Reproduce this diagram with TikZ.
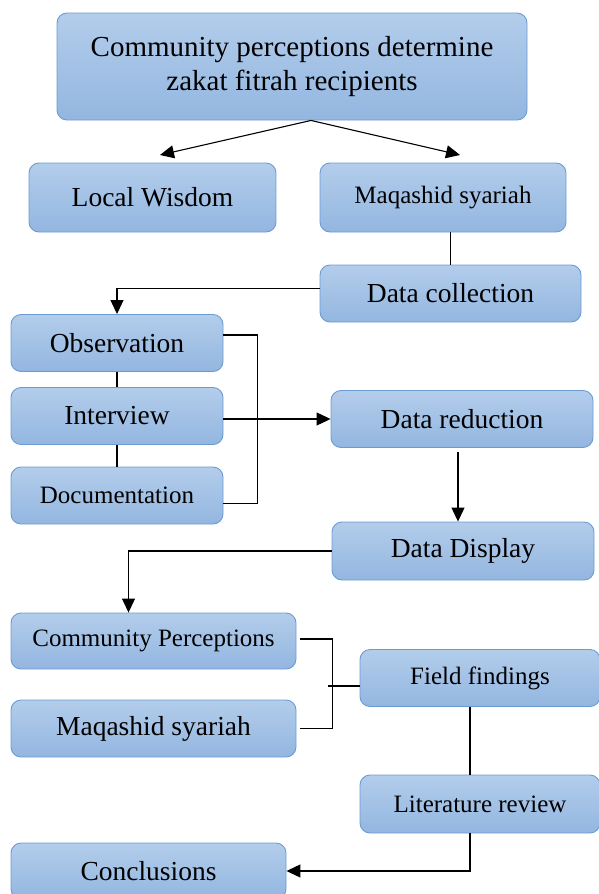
\documentclass[tikz,border=0pt]{standalone}
\usepackage{fontspec}
\setmainfont{Liberation Serif}
\usetikzlibrary{arrows.meta}

\definecolor{boxtop}{HTML}{B3CDEB}
\definecolor{boxbot}{HTML}{93B6E0}
\definecolor{boxline}{HTML}{6C9BD2}

\tikzset{
  box/.style={rectangle, rounded corners=10pt, draw=boxline, line width=0.9pt,
    top color=boxtop, bottom color=boxbot, inner sep=2pt, align=center,
    font=\fontsize{27.5}{33}\selectfont},
  smallbox/.style={box, font=\fontsize{25}{30}\selectfont},
  link/.style={draw=black, line width=1.1pt},
  arr/.style={link, -{Triangle[length=14pt, width=13pt]}}
}

\begin{document}
\begin{tikzpicture}[x=1pt,y=-1pt]
\useasboundingbox (0,0) rectangle (598,894);
% boxes
\node[box, minimum width=470, minimum height=107, font=\fontsize{29}{34}\selectfont] (topic) at (292,66.5) {Community perceptions determine\\zakat fitrah recipients};
\node[box, minimum width=247, minimum height=69] (wisdom) at (152.5,197.5) {Local Wisdom};
\node[smallbox, minimum width=246, minimum height=69] (maqtop) at (443,197.5) {Maqashid syariah};
\node[box, minimum width=261, minimum height=57] (collect) at (450.5,293.5) {Data collection};
\node[box, minimum width=212, minimum height=57] (obs) at (117,343) {Observation};
\node[box, minimum width=212, minimum height=57] (inter) at (117,416) {Interview};
\node[smallbox, minimum width=212, minimum height=57] (docu) at (117,495.5) {Documentation};
\node[box, minimum width=262, minimum height=57] (reduce) at (462,419) {Data reduction};
\node[box, minimum width=262, minimum height=58] (display) at (463,551) {Data Display};
\node[smallbox, minimum width=285, minimum height=56] (commper) at (153.5,641) {Community Perceptions};
\node[box, minimum width=285, minimum height=57] (maqbot) at (153.5,728.5) {Maqashid syariah};
\node[smallbox, minimum width=240, minimum height=57] (field) at (480,678) {Field findings};
\node[smallbox, minimum width=240, minimum height=58] (litrev) at (480,804) {Literature review};
\node[box, minimum width=275, minimum height=56] (concl) at (148.5,871) {Conclusions};

% connectors
\coordinate (wisdomin) at (160,155);
\coordinate (maqin) at (460,155);
\draw[arr] ([xshift=19pt]topic.south) -- (wisdomin);
\draw[arr] ([xshift=19pt]topic.south) -- (maqin);
\draw[link] (collect.north |- maqtop.south) -- (collect.north);
\draw[arr] ([yshift=5pt]collect.west) -| (obs.north);
\draw[link] (obs.south) -- (inter.north);
\draw[link] (inter.south) -- (docu.north);
\draw[link] ([yshift=8pt]obs.east) -- ++(34,0) |- ([yshift=-8pt]docu.east);
\draw[arr] (reduce.west -| inter.east) -- (reduce.west);
\draw[arr] ([shift={(-5pt,-4pt)}]display.north |- reduce.south) -- ([xshift=-5pt]display.north);
\draw[arr] (display.west) -| ([xshift=-25pt]commper.north);
\draw[link] ([shift={(4pt,2pt)}]commper.east) -- ++(32,0) |- ([xshift=4pt]maqbot.east);
\draw[link] ([yshift=-8pt]field.west) -- ++(-32,0);
\draw[link] ([xshift=-10pt]field.south) -- ([xshift=-10pt]litrev.north);
\draw[arr] ([xshift=-10pt]litrev.south) |- (concl.east);
\end{tikzpicture}
\end{document}
